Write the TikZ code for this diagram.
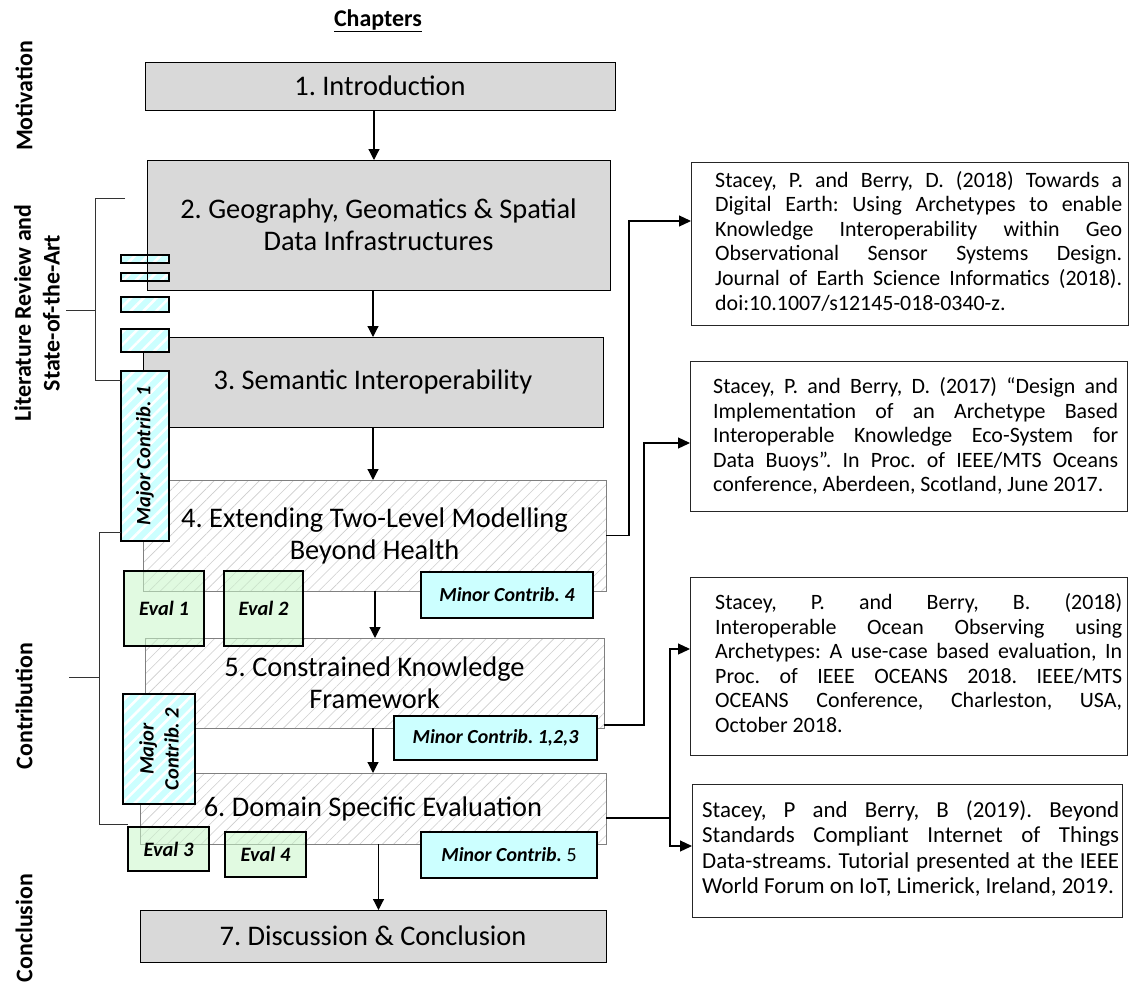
\documentclass[tikz,border=0pt]{standalone}
\usepackage{fontspec}
\setmainfont{Carlito}
\usetikzlibrary{arrows.meta,patterns.meta}

\definecolor{chapfill}{HTML}{D9D9D9}
\definecolor{contribfill}{HTML}{CCFFFF}
\definecolor{evalfill}{HTML}{C8F6C8}
\definecolor{hatchline}{HTML}{CDCDCD}
\definecolor{hatchedge}{HTML}{808080}

\tikzset{
  boxbase/.style={inner sep=0pt,outer sep=0pt,anchor=north west},
  chapbox/.style={boxbase,draw=black,line width=0.9bp,fill=chapfill,align=center,
    font=\fontsize{28.5}{32}\selectfont},
  workbox/.style={boxbase,draw=hatchedge,line width=1bp,preaction={fill=white},
    pattern={Lines[angle=45,distance=8bp,line width=0.6bp]},pattern color=hatchline,
    align=center,font=\fontsize{28.5}{32}\selectfont},
  majorbox/.style={boxbase,draw=black,line width=1.5bp,preaction={fill=contribfill},
    pattern={Lines[angle=45,distance=9bp,line width=2.6bp]},pattern color=white},
  majortext/.style={inner sep=0pt,rotate=90,align=center,
    font=\fontsize{20.5}{25}\selectfont\bfseries\itshape},
  minorbox/.style={boxbase,draw=black,line width=1.5bp,fill=contribfill,
    font=\fontsize{20}{24}\selectfont\bfseries\itshape},
  evalbox/.style={boxbase,draw=black,line width=1.5bp,fill=evalfill,fill opacity=0.55,
    text opacity=1,font=\fontsize{20.5}{24}\selectfont\bfseries\itshape},
  refbox/.style={boxbase,draw=black!85,line width=1bp},
  reftext/.style={inner sep=0pt,anchor=west,align=justify,
    font=\fontsize{22}{24.7}\selectfont,
    execute at begin node={\hyphenpenalty=10000 \tolerance=10000 \pretolerance=-1 }},
  sidelabel/.style={inner sep=0pt,rotate=90,align=center,
    font=\fontsize{24}{29}\selectfont\bfseries},
  bracket/.style={line width=1bp,draw=black!80},
  flow/.style={line width=1.2bp,-{Triangle[width=11bp,length=11bp]}},
  link/.style={line width=1.2bp,-{Triangle[width=11bp,length=12bp]}},
}

\begin{document}
\frenchspacing
\begin{tikzpicture}[x=1bp,y=-1bp]
\useasboundingbox (0,0) rectangle (1133,989);

% heading
\node[inner sep=0pt,font=\fontsize{24}{28}\selectfont\bfseries] (hdr) at (378,21) {\underline{Chapters}};

% chapter boxes
\node[chapbox,minimum width=470bp,minimum height=48bp] (c1) at (145,62) {1. Introduction};
\node[chapbox,minimum width=463bp,minimum height=130bp] (c2) at (147,160)
  {2. Geography, Geomatics \& Spatial\\Data Infrastructures};
\node[chapbox,minimum width=460bp,minimum height=90bp] (c3) at (143,337) {3. Semantic Interoperability};
\node[workbox,minimum width=463bp,minimum height=111bp] (c4) at (143,480)
  {4. Extending Two-Level Modelling\\Beyond Health};
\node[workbox,minimum width=459bp,minimum height=90bp] (c5) at (145,638)
  {5. Constrained Knowledge\\Framework};
\node[workbox,minimum width=466bp,minimum height=71bp] (c6) at (140,773) {6. Domain Specific Evaluation};
\node[chapbox,minimum width=466bp,minimum height=52bp] (c7) at (140,910) {7. Discussion \& Conclusion};

% flow between chapters
\coordinate (x12) at (374,0);
\coordinate (x23) at (373,0);
\coordinate (x34) at (373,0);
\coordinate (x45) at (375,0);
\coordinate (x56) at (373,0);
\coordinate (x67) at (378.5,0);
\draw[flow] (c1.south -| x12) -- (c2.north -| x12);
\draw[flow] (c2.south -| x23) -- (c3.north -| x23);
\draw[flow] (c3.south -| x34) -- (c4.north -| x34);
\draw[flow] (c4.south -| x45) -- (c5.north -| x45);
\draw[flow] (c5.south -| x56) -- (c6.north -| x56);
\draw[flow] (c6.south -| x67) -- (c7.north -| x67);

% major contribution markers
\node[majorbox,minimum width=48bp,minimum height=8bp] (s1) at (121,255) {};
\node[majorbox,minimum width=48bp,minimum height=8bp] (s2) at (121,273) {};
\node[majorbox,minimum width=48bp,minimum height=15bp] (s3) at (121,297) {};
\node[majorbox,minimum width=48bp,minimum height=23bp] (s4) at (121,329) {};
\draw[line width=0.9bp] (c2.north west) -- (c2.south west);
\node[majorbox,minimum width=48bp,minimum height=170bp] (mc1) at (121,371) {};
\node[majortext] (mc1t) at (mc1.center) {Major Contrib. 1};
\node[majorbox,minimum width=72bp,minimum height=110bp] (mc2) at (123,694) {};
\node[majortext] (mc2t) at (mc2.center) {Major\\Contrib. 2};

% evaluations
\node[evalbox,minimum width=80bp,minimum height=75bp] (e1) at (124,571) {Eval 1};
\node[evalbox,minimum width=79bp,minimum height=75bp] (e2) at (224,571) {Eval 2};
\node[evalbox,minimum width=81bp,minimum height=44bp] (e3) at (128,827) {Eval 3};
\node[evalbox,minimum width=81bp,minimum height=45bp] (e4) at (225,832) {Eval 4};

% minor contributions
\node[minorbox,minimum width=172bp,minimum height=46bp] (m4) at (421,572) {Minor Contrib. 4};
\node[minorbox,minimum width=203bp,minimum height=44bp] (m123) at (394,716) {Minor Contrib. 1,2,3};
\node[minorbox,minimum width=176bp,minimum height=46bp] (m5) at (421,832) {Minor Contrib. \textnormal{5}};

% side labels and brackets
\node[sidelabel] (lbMot) at (24,96) {Motivation};
\node[sidelabel] (lbLit) at (37,313) {Literature Review and\\State-of-the-Art};
\node[sidelabel] (lbCon) at (24,706) {Contribution};
\node[sidelabel] (lbEnd) at (24,928) {Conclusion};

\coordinate (litA) at (125,198);
\coordinate (litB) at (95.7,380);
\coordinate (litTick) at (66,310.7);
\draw[bracket] (litA) -| (litB) -- (litB -| mc1.west);
\draw[bracket] (litTick) -- (litTick -| litB);

\coordinate (conA) at (99.3,532);
\coordinate (conB) at (99.3,824);
\coordinate (conTick) at (69.3,677.7);
\draw[bracket] (conA -| mc1.west) -- (conA) -- (conB) -- (conB -| e3.west);
\draw[bracket] (conTick) -- (conTick -| conA);

% publications
\node[refbox,minimum width=437bp,minimum height=163bp] (r1) at (691,162) {};
\node[reftext,text width=407bp] (r1t) at ([xshift=24bp,yshift=2.5bp]r1.west)
  {Stacey, P. and Berry, D. (2018) Towards a\linebreak
   Digital Earth: Using Archetypes to enable\linebreak
   Knowledge Interoperability within Geo\linebreak
   Observational Sensor Systems Design.\linebreak
   Journal of Earth Science Informatics (2018).\linebreak
   doi:10.1007/s12145-018-0340-z.};

\node[refbox,minimum width=437bp,minimum height=150bp] (r2) at (690,361) {};
\node[reftext,text width=405bp] (r2t) at ([xshift=23bp]r2.west)
  {Stacey, P. and Berry, D. (2017) “Design and\linebreak
   Implementation of an Archetype Based\linebreak
   Interoperable Knowledge Eco-System for\linebreak
   Data Buoys”. In Proc. of IEEE/MTS Oceans\linebreak
   conference, Aberdeen, Scotland, June 2017.};

\node[refbox,minimum width=437bp,minimum height=178bp] (r3) at (690,577) {};
\node[reftext,text width=407bp] (r3t) at ([xshift=25bp,yshift=3bp]r3.west)
  {Stacey, P. and Berry, B. (2018)\linebreak
   Interoperable Ocean Observing using\linebreak
   Archetypes: A use-case based evaluation, In\linebreak
   Proc. of IEEE OCEANS 2018. IEEE/MTS\linebreak
   OCEANS Conference, Charleston, USA,\linebreak
   October 2018.};

\node[refbox,minimum width=430bp,minimum height=133bp] (r4) at (692,784) {};
\node[reftext,text width=417bp,font=\fontsize{23}{25.5}\selectfont] (r4t)
  at ([xshift=10bp,yshift=2bp]r4.west)
  {Stacey, P and Berry, B (2019). Beyond\linebreak
   Standards Compliant Internet of Things\linebreak
   Data-streams. Tutorial presented at the IEEE\linebreak
   World Forum on IoT, Limerick, Ireland, 2019.};

% links from chapters to publications
\draw[link] (c4.east) -- ++(23,0) |- ([yshift=22.5bp]r1.west);
\draw[link] ([yshift=-42bp]c5.east) -- ++(40,0) |- ([yshift=-7bp]r2.west);
\draw[line width=1.2bp] ([yshift=-9.5bp]c6.east) -- ++(64,0) coordinate (fork);
\draw[link] (fork) |- ([yshift=17bp]r3.west);
\draw[link] (fork) |- ([yshift=4.5bp]r4.west);

\end{tikzpicture}
\end{document}
